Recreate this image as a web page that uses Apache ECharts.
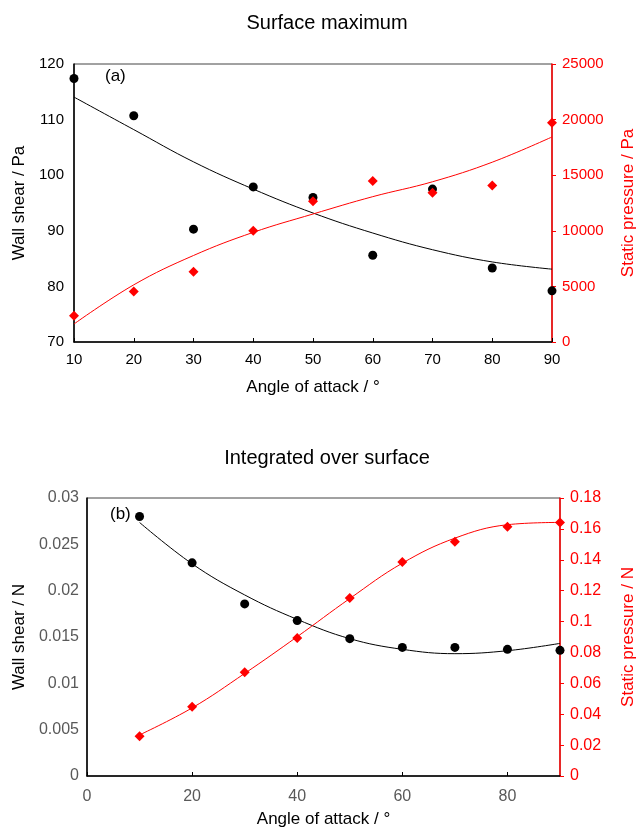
<!DOCTYPE html>
<html><head><meta charset="utf-8">
<script src="https://cdn.jsdelivr.net/npm/echarts@6/dist/echarts.min.js"></script>
<style>html,body{margin:0;padding:0;background:#fff}#c{width:637px;height:830px}</style>
</head><body><div id="c"></div>
<script>
const angles = [10,20,30,40,50,60,70,80,90];
// (a) Surface maximum
const shearMax = [117.4,110.7,90.3,97.9,96.0,85.6,97.5,83.3,79.2];
const pressMax = [2350,4540,6310,10000,12650,14470,13430,14080,19720];
const shearMaxFit = [114.05,108.2,102.4,97.5,93.2,89.6,86.6,84.4,83.1];
const pressMaxFit = [1620,5140,7780,9860,11510,13070,14410,16170,18440];
// (b) Integrated over surface
const shearInt = [0.0280,0.0230,0.01857,0.01677,0.01482,0.01388,0.01388,0.01367,0.01356];
const pressInt = [0.0258,0.0448,0.0671,0.0894,0.1153,0.1385,0.1517,0.1614,0.1642];
const shearIntFit = [0.02736,0.0229,0.01954,0.0169,0.01482,0.01367,0.0132,0.01352,0.01431];
const pressIntFit = [0.0266,0.0441,0.0664,0.0902,0.1149,0.1378,0.1540,0.1627,0.1642];

const pair = (xs, ys) => xs.map((x,i)=>[x, ys[i]]);
const FONT = 'Liberation Sans, Arial, sans-serif';
const RED = '#ff0000';
const GREY = '#595959';
const plain = v => String(+v.toFixed(6));

const chart = echarts.init(document.getElementById('c'));
const xAxisBase = (gi, min, max, interval, color, fs, margin) => ({
  type:'value', gridIndex:gi, min, max, interval,
  name:'Angle of attack / °', nameLocation:'middle', nameGap:gi===0?37:35,
  nameTextStyle:{color:'#000', fontSize:17, fontFamily:FONT},
  axisLine:{lineStyle:{color:'#000', width:1.5}},
  axisTick:{inside:true, length:4, lineStyle:{color:'#000'}},
  axisLabel:{color, fontSize:fs, fontFamily:FONT, margin, showMaxLabel: gi===0, formatter:plain},
  splitLine:{show:false}
});
chart.setOption({
  animation:false,
  title:[
    {text:'Surface maximum', left:322, textAlign:'center', top:8, textStyle:{fontSize:20, fontWeight:'normal', color:'#000', fontFamily:FONT}},
    {text:'Integrated over surface', left:322, textAlign:'center', top:443, textStyle:{fontSize:20, fontWeight:'normal', color:'#000', fontFamily:FONT}}
  ],
  grid:[
    {left:74, top:64, width:478, height:278, show:true, borderColor:'#444', borderWidth:1, containLabel:false, outerBoundsMode:'none'},
    {left:87, top:498, width:473, height:278, show:true, borderColor:'#444', borderWidth:1, containLabel:false, outerBoundsMode:'none'}
  ],
  xAxis:[
    xAxisBase(0,10,90,10,'#000',15,10),
    xAxisBase(1,0,90,20,GREY,16,13)
  ],
  yAxis:[
    {type:'value', gridIndex:0, min:70, max:120, interval:10, position:'left',
     name:'Wall shear / Pa', nameLocation:'middle', nameGap:44,
     nameTextStyle:{color:'#000', fontSize:17, fontFamily:FONT},
     axisLine:{show:true, lineStyle:{color:'#000', width:1.5}}, axisTick:{show:false},
     axisLabel:{color:'#000', fontSize:15, fontFamily:FONT, margin:10, formatter:plain}, splitLine:{show:false}},
    {type:'value', gridIndex:0, min:0, max:25000, interval:5000, position:'right',
     name:'Static pressure / Pa', nameLocation:'middle', nameGap:68,
     nameTextStyle:{color:RED, fontSize:17, fontFamily:FONT},
     axisLine:{show:true, lineStyle:{color:RED, width:1.5}}, axisTick:{show:true, length:4, lineStyle:{color:RED}},
     axisLabel:{color:RED, fontSize:15, fontFamily:FONT, margin:10, formatter:plain}, splitLine:{show:false}},
    {type:'value', gridIndex:1, min:0, max:0.03, interval:0.005, position:'left',
     name:'Wall shear / N', nameLocation:'middle', nameGap:52,
     nameTextStyle:{color:'#000', fontSize:17, fontFamily:FONT},
     axisLine:{show:true, lineStyle:{color:'#000', width:1.5}}, axisTick:{show:false},
     axisLabel:{color:GREY, fontSize:16, fontFamily:FONT, margin:8, formatter:plain}, splitLine:{show:false}},
    {type:'value', gridIndex:1, min:0, max:0.18, interval:0.02, position:'right',
     name:'Static pressure / N', nameLocation:'middle', nameGap:60,
     nameTextStyle:{color:RED, fontSize:17, fontFamily:FONT},
     axisLine:{show:true, lineStyle:{color:RED, width:1.5}}, axisTick:{show:true, length:4, lineStyle:{color:RED}},
     axisLabel:{color:RED, fontSize:16, fontFamily:FONT, margin:10, formatter:plain}, splitLine:{show:false}}
  ],
  series:[
    {type:'line', xAxisIndex:0, yAxisIndex:0, data:pair(angles, shearMaxFit), smooth:0.4, showSymbol:false, lineStyle:{color:'#000', width:1}, z:2},
    {type:'line', xAxisIndex:0, yAxisIndex:1, data:pair(angles, pressMaxFit), smooth:0.4, showSymbol:false, lineStyle:{color:RED, width:1}, z:2},
    {type:'scatter', xAxisIndex:0, yAxisIndex:0, data:pair(angles, shearMax), symbol:'circle', symbolSize:9, itemStyle:{color:'#000', opacity:1}, z:3},
    {type:'scatter', xAxisIndex:0, yAxisIndex:1, data:pair(angles, pressMax), symbol:'diamond', symbolSize:10, itemStyle:{color:RED, opacity:1}, z:4},
    {type:'line', xAxisIndex:1, yAxisIndex:2, data:pair(angles, shearIntFit), smooth:0.4, showSymbol:false, lineStyle:{color:'#000', width:1}, z:2},
    {type:'line', xAxisIndex:1, yAxisIndex:3, data:pair(angles, pressIntFit), smooth:0.4, showSymbol:false, lineStyle:{color:RED, width:1}, z:2},
    {type:'scatter', xAxisIndex:1, yAxisIndex:2, data:pair(angles, shearInt), symbol:'circle', symbolSize:9, itemStyle:{color:'#000', opacity:1}, z:3},
    {type:'scatter', xAxisIndex:1, yAxisIndex:3, data:pair(angles, pressInt), symbol:'diamond', symbolSize:10, itemStyle:{color:RED, opacity:1}, z:4}
  ],
  graphic:[
    {type:'text', left:105, top:68, style:{text:'(a)', fontSize:17, fontFamily:FONT, fill:'#000'}},
    {type:'text', left:110, top:506, style:{text:'(b)', fontSize:17, fontFamily:FONT, fill:'#000'}}
  ]
});
</script></body></html>
